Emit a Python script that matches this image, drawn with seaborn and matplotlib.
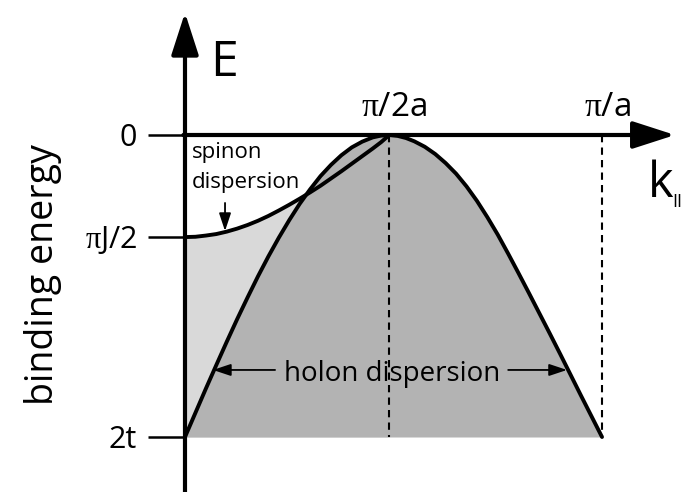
import matplotlib
matplotlib.use("Agg")
import matplotlib.pyplot as plt
import seaborn as sns

# Momentum k along the chain in units of pi/a, binding energy in units of 2t
holon_k = [0.000, 0.025, 0.050, 0.075, 0.100, 0.125, 0.150, 0.175, 0.200, 0.225,
           0.250, 0.275, 0.300, 0.325, 0.350, 0.375, 0.400, 0.425, 0.450, 0.470,
           0.490, 0.510, 0.530, 0.550, 0.575, 0.600, 0.625, 0.650, 0.675, 0.700,
           0.725, 0.750, 0.775, 0.800, 0.825, 0.850, 0.875, 0.900, 0.925, 0.950,
           0.975, 1.000]
holon_E = [1.000, 0.920, 0.840, 0.762, 0.685, 0.610, 0.538, 0.468, 0.402, 0.340,
           0.282, 0.228, 0.180, 0.136, 0.099, 0.067, 0.041, 0.022, 0.008, 0.002,
           0.000, 0.003, 0.010, 0.021, 0.039, 0.063, 0.093, 0.128, 0.170, 0.218,
           0.272, 0.330, 0.393, 0.458, 0.524, 0.591, 0.658, 0.726, 0.795, 0.864,
           0.932, 1.000]

spinon_k = [0.000, 0.025, 0.050, 0.075, 0.100, 0.125, 0.150, 0.175, 0.200, 0.225,
            0.250, 0.275, 0.300, 0.325, 0.350, 0.375, 0.400, 0.425, 0.450, 0.470,
            0.490]
spinon_E = [0.338, 0.337, 0.333, 0.328, 0.320, 0.310, 0.298, 0.284, 0.268, 0.250,
            0.231, 0.211, 0.190, 0.168, 0.144, 0.120, 0.095, 0.070, 0.045, 0.024,
            0.000]

energy_ticks = [0.0, 0.338, 1.0]
energy_labels = ["0", r"$\mathrm{\pi}$J/2", "2t"]
k_ticks = [0.49, 1.0]
k_labels = [r"$\mathrm{\pi}$/2a", r"$\mathrm{\pi}$/a"]

sns.set_style("white")
plt.rcParams["font.family"] = ["Open Sans", "DejaVu Sans"]
plt.rcParams["text.color"] = "black"
plt.rcParams["mathtext.fontset"] = "custom"
plt.rcParams["mathtext.rm"] = "Liberation Serif"
plt.rcParams["mathtext.it"] = "Liberation Serif:italic"
plt.rcParams["mathtext.bf"] = "Liberation Serif:bold"

fig = plt.figure(figsize=(6.82, 4.92), dpi=100)
ax = fig.add_axes([0, 0, 1, 1])
ax.set_xlim(-0.4436, 1.1918)
ax.set_ylim(1.1821, -0.447)
ax.axis("off")

band_bottom = energy_ticks[-1]
light = "#d9d9d9"
dark = "#b3b3b3"

# continuum of spinon-holon states
ax.fill_between(spinon_k, spinon_E, band_bottom, color=light, lw=0, zorder=1)
ax.fill_between(holon_k, holon_E, band_bottom, color=dark, lw=0, zorder=2)

# zone markers
for kt in k_ticks:
    ax.plot([kt, kt], [0, band_bottom], color="k", lw=1.5, dashes=(3.5, 2.5), zorder=3)

# dispersion branches
sns.lineplot(x=spinon_k, y=spinon_E, color="k", lw=2.8, ax=ax, zorder=5,
             sort=False, estimator=None)
sns.lineplot(x=holon_k, y=holon_E, color="k", lw=2.8, ax=ax, zorder=5,
             sort=False, estimator=None)

# axes with arrow heads
axis_arrow = dict(arrowstyle="-|>,head_length=1.3,head_width=0.42",
                  mutation_scale=20, lw=3.0, color="k", shrinkA=0, shrinkB=0)
ax.annotate("", xy=(0, -0.405), xytext=(0, 1.19), arrowprops=axis_arrow, zorder=6)
ax.annotate("", xy=(1.175, 0), xytext=(-0.004, 0), arrowprops=axis_arrow, zorder=6)

# energy ticks and labels
for e, lab in zip(energy_ticks, energy_labels):
    ax.plot([-0.089, 0], [e, e], color="k", lw=1.8, zorder=6, solid_capstyle="butt")
    ax.text(-0.115, e + 0.037, lab, ha="right", va="baseline", fontsize=22)

# momentum labels
for kt, lab in zip(k_ticks, k_labels):
    ax.text(kt + 0.012, -0.062, lab, ha="center", va="baseline", fontsize=24)

ax.text(0.0935, -0.195, "E", ha="center", va="baseline", fontsize=36)
ax.text(1.11, 0.205, "k", ha="left", va="baseline", fontsize=35)
ax.text(1.168, 0.238, "II", ha="left", va="baseline", fontsize=13)

ax.text(-0.3165, 0.4636, "binding energy", rotation=90, rotation_mode="anchor",
        ha="center", va="baseline", fontsize=27)

# branch annotations
small_arrow = dict(arrowstyle="-|>,head_length=0.9,head_width=0.3",
                   mutation_scale=12, lw=1.3, color="k", shrinkA=0, shrinkB=0)
ax.text(0.0168, 0.076, "spinon", ha="left", va="baseline", fontsize=16)
ax.text(0.0168, 0.1755, "dispersion", ha="left", va="baseline", fontsize=16)
ax.annotate("", xy=(0.096, 0.318), xytext=(0.096, 0.225), arrowprops=small_arrow, zorder=7)

ax.text(0.496, 0.8146, "holon dispersion", ha="center", va="baseline", fontsize=20, zorder=7)
ax.annotate("", xy=(0.067, 0.778), xytext=(0.216, 0.778), arrowprops=small_arrow, zorder=7)
ax.annotate("", xy=(0.916, 0.778), xytext=(0.775, 0.778), arrowprops=small_arrow, zorder=7)

fig.savefig("out.png", dpi=100, facecolor="white")
